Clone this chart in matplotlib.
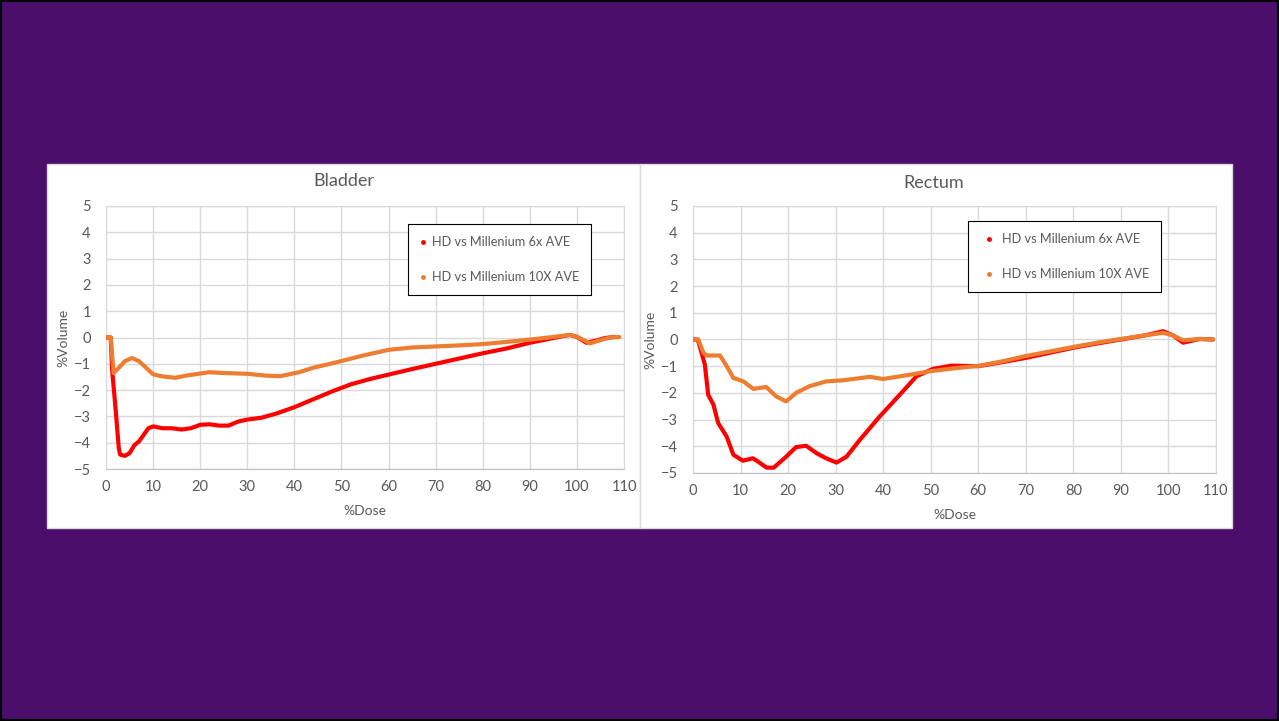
import matplotlib.pyplot as plt
from matplotlib.lines import Line2D
from matplotlib.patches import Rectangle

plt.rcParams['font.family'] = ['Lato', 'DejaVu Sans']

# values
bladder_6x_dose = [0, 1, 1.3, 2.0, 2.7, 3, 4, 5, 6, 7, 8, 9, 10, 12, 14, 16, 18, 20, 22, 24,
                   26, 28, 30, 33, 36, 40, 44, 48, 52, 56, 60, 65, 70, 75, 80, 85, 90, 95,
                   98.5, 100, 102, 104, 106, 108]
bladder_6x = [0, 0, -1.25, -2.65, -4.2, -4.45, -4.5, -4.4, -4.1, -3.95, -3.7, -3.45, -3.38,
              -3.45, -3.45, -3.5, -3.45, -3.32, -3.3, -3.35, -3.35, -3.2, -3.12, -3.05, -2.9,
              -2.65, -2.35, -2.05, -1.78, -1.58, -1.41, -1.2, -1.0, -0.8, -0.6, -0.42, -0.2,
              -0.02, 0.1, 0.02, -0.2, -0.12, -0.02, 0.02]

bladder_10x_dose = [0, 1, 1.6, 3, 4, 5.5, 7, 8.5, 10, 12, 14.7, 17, 20, 22, 25, 30, 34, 37,
                    41, 44, 47.6, 51, 54.7, 60, 65, 70, 75, 80, 85, 90, 95, 98.5, 100, 102.8,
                    105, 107, 109]
bladder_10x = [0, 0, -1.35, -1.1, -0.9, -0.78, -0.9, -1.15, -1.4, -1.48, -1.53, -1.45, -1.37,
               -1.32, -1.35, -1.38, -1.45, -1.47, -1.32, -1.15, -1.0, -0.85, -0.68, -0.47,
               -0.38, -0.34, -0.3, -0.25, -0.17, -0.08, 0.02, 0.1, 0.03, -0.22, -0.1, 0.0, 0.02]

rectum_6x_dose = [0, 1, 1.5, 2.5, 3.2, 4.3, 5.3, 7.1, 8.5, 10.5, 12.6, 13.4, 15.5, 17, 19.6,
                  21.7, 23.8, 26, 28, 30.2, 32.3, 35.1, 39.3, 43.5, 47, 50.5, 54.4, 60, 65,
                  70, 75, 80, 85, 90, 95, 98.9, 101, 103.1, 106.6, 109.4]
rectum_6x = [0, 0, -0.3, -0.94, -2.07, -2.44, -3.13, -3.64, -4.32, -4.54, -4.45, -4.54, -4.8,
             -4.8, -4.39, -4.03, -3.98, -4.26, -4.45, -4.61, -4.39, -3.76, -2.88, -2.07, -1.38,
             -1.1, -0.98, -1.0, -0.85, -0.69, -0.5, -0.31, -0.15, 0.0, 0.15, 0.31, 0.15, -0.12,
             0.02, 0.0]

rectum_10x_dose = [0, 1.1, 2.2, 2.9, 5.7, 7.1, 8.5, 10.6, 12.7, 15.4, 17.5, 19.6, 21.7, 24.5,
                   28, 31.5, 37.2, 40, 45.6, 49.8, 55, 60.4, 65, 70, 75, 80, 85, 90, 95, 98.9,
                   101, 103.1, 106.6, 109.4]
rectum_10x = [0, 0, -0.5, -0.6, -0.6, -1.0, -1.44, -1.57, -1.85, -1.78, -2.13, -2.32, -2.0,
              -1.75, -1.57, -1.53, -1.4, -1.48, -1.32, -1.19, -1.08, -0.98, -0.82, -0.62,
              -0.45, -0.28, -0.12, 0.02, 0.15, 0.25, 0.15, -0.03, 0.02, 0.0]

x_ticks = list(range(0, 111, 10))
y_ticks = list(range(-5, 6))
series_labels = ['HD vs Millenium 6x AVE', 'HD vs Millenium 10X AVE']

RED = '#ff0000'
ORANGE = '#ed7d31'
TEXT = '#595959'
GRID = '#d9d9d9'

fig = plt.figure(figsize=(12.79, 7.21), dpi=100)
fig.patch.set_facecolor('#4b0e6b')
fig.patches.append(Rectangle((0, 0), 1, 1, transform=fig.transFigure, fill=False,
                             edgecolor='black', linewidth=3, zorder=10))

# white chart panels, behind the axes
fig.patches.append(Rectangle((0.0367, 0.2677), 0.4640, 0.5049, transform=fig.transFigure,
                             facecolor='white', edgecolor=GRID, linewidth=1, zorder=-1))
fig.patches.append(Rectangle((0.5007, 0.2677), 0.4626, 0.5049, transform=fig.transFigure,
                             facecolor='white', edgecolor=GRID, linewidth=1, zorder=-1))


def draw_chart(ax, title, red_x, red_y, orange_x, orange_y, legend_anchor, title_y,
               handle_len, text_pad):
    ax.plot(red_x, red_y, color=RED, linewidth=3, solid_capstyle='round', zorder=3)
    ax.plot(orange_x, orange_y, color=ORANGE, linewidth=3, solid_capstyle='round', zorder=4)
    ax.set_xlim(0, 110)
    ax.set_ylim(-5, 5)
    ax.set_xticks(x_ticks)
    ax.set_yticks(y_ticks)
    ax.grid(True, color=GRID, linewidth=1)
    ax.set_axisbelow(True)
    for side in ['top', 'right', 'left']:
        ax.spines[side].set_color(GRID)
    ax.spines['bottom'].set_color('#bfbfbf')
    ax.tick_params(axis='x', length=0, labelsize=10.5, labelcolor=TEXT, pad=8)
    ax.tick_params(axis='y', length=0, labelsize=10.5, labelcolor=TEXT, pad=11)
    ax.set_xlabel('%Dose', fontsize=10, color=TEXT, labelpad=8)
    ax.set_ylabel('%Volume', fontsize=10, color=TEXT, labelpad=3)
    fig.text(ax.get_position().x0 + ax.get_position().width * 0.46, title_y, title,
             fontsize=13, color=TEXT, ha='center', va='center')

    handles = [Line2D([], [], color=RED, marker='o', markersize=2.5, linestyle='none'),
               Line2D([], [], color=ORANGE, marker='o', markersize=2.5, linestyle='none')]
    leg = ax.legend(handles, series_labels, loc='upper left', bbox_to_anchor=legend_anchor,
                    bbox_transform=fig.transFigure, borderaxespad=0, fontsize=9.2,
                    labelspacing=1.8, handlelength=handle_len, handletextpad=text_pad,
                    borderpad=0.95, fancybox=False, framealpha=1, edgecolor='black')
    leg.get_frame().set_linewidth(0.8)
    for t in leg.get_texts():
        t.set_color(TEXT)


ax1 = fig.add_axes([0.0829, 0.3495, 0.4050, 0.3648])
draw_chart(ax1, 'Bladder', bladder_6x_dose, bladder_6x, bladder_10x_dose, bladder_10x,
           (408 / 1279, 1 - 224 / 721), 1 - 181 / 721, 0.4, 0.5)

ax2 = fig.add_axes([0.5418, 0.3440, 0.4089, 0.3703])
draw_chart(ax2, 'Rectum', rectum_6x_dose, rectum_6x, rectum_10x_dose, rectum_10x,
           (968 / 1279, 1 - 221 / 721), 1 - 183 / 721, 1.4, 0.3)

fig.savefig('out.png', dpi=100, facecolor=fig.get_facecolor())
